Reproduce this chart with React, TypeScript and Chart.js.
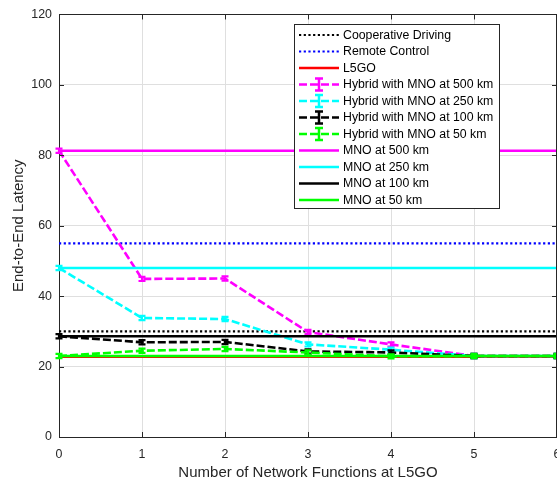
import React, { useEffect, useRef } from "react";
import { Chart, registerables } from "chart.js";

Chart.register(...registerables);

// ---------- data ----------
const xValues = [0, 1, 2, 3, 4, 5, 6];
const yTicks = [0, 20, 40, 60, 80, 100, 120];

const cooperativeDriving = [30, 30, 30, 30, 30, 30, 30];
const remoteControl = [55, 55, 55, 55, 55, 55, 55];
const l5go = [22.8, 22.8, 22.8, 22.8, 22.8, 22.8, 22.8];

const hybrid500 = [81.3, 44.9, 45, 29.8, 26.3, 23, 23];
const hybrid250 = [48, 33.8, 33.5, 26.3, 24.8, 23, 23];
const hybrid100 = [28.6, 26.9, 27, 24.3, 24, 23, 23];
const hybrid50 = [23, 24.5, 25, 24, 22.9, 23, 23];

const hybrid500Err = [0.6, 0.6, 0.6, 0.6, 0.6, 0.6, 0.6];
const hybrid250Err = [0.6, 0.6, 0.6, 0.6, 0.6, 0.6, 0.6];
const hybrid100Err = [0.6, 0.6, 0.6, 0.6, 0.6, 0.6, 0.6];
const hybrid50Err = [0.6, 0.6, 0.6, 0.6, 0.6, 0.6, 0.6];

const mno500 = [81.3, 81.3, 81.3, 81.3, 81.3, 81.3, 81.3];
const mno250 = [48, 48, 48, 48, 48, 48, 48];
const mno100 = [28.6, 28.6, 28.6, 28.6, 28.6, 28.6, 28.6];
const mno50 = [23, 23, 23, 23, 23, 23, 23];

const seriesNames = [
  "Cooperative Driving",
  "Remote Control",
  "L5GO",
  "Hybrid with MNO at 500 km",
  "Hybrid with MNO at 250 km",
  "Hybrid with MNO at 100 km",
  "Hybrid with MNO at 50 km",
  "MNO at 500 km",
  "MNO at 250 km",
  "MNO at 100 km",
  "MNO at 50 km",
];

const FONT = '"Liberation Sans", Arial, Helvetica, sans-serif';
const AXIS_COLOR = "#262626";
const GRID_COLOR = "#dfdfdf";

const toPoints = (ys: number[]) => ys.map((y, i) => ({ x: xValues[i], y }));

const DOTTED = [2.2, 2.5];
const DASHED = [8, 3];

const matlabPlugin = {
  id: "matlabLook",
  afterDatasetDraw(chart: any, args: any) {
    const ds: any = chart.data.datasets[args.index];
    if (!ds.errors) return;
    const { ctx, chartArea } = chart;
    const xs = chart.scales.x;
    const ys = chart.scales.y;
    ctx.save();
    ctx.beginPath();
    ctx.rect(chartArea.left - 5, chartArea.top - 5, chartArea.right - chartArea.left + 10, chartArea.bottom - chartArea.top + 10);
    ctx.clip();
    ctx.strokeStyle = ds.borderColor;
    ctx.lineWidth = 2.2;
    ctx.setLineDash([]);
    ds.data.forEach((p: any, i: number) => {
      const e = ds.errors[i];
      const px = xs.getPixelForValue(p.x);
      const y1 = ys.getPixelForValue(p.y + e);
      const y2 = ys.getPixelForValue(p.y - e);
      ctx.beginPath();
      ctx.moveTo(px, y1);
      ctx.lineTo(px, y2);
      ctx.moveTo(px - 3.5, y1);
      ctx.lineTo(px + 3.5, y1);
      ctx.moveTo(px - 3.5, y2);
      ctx.lineTo(px + 3.5, y2);
      ctx.stroke();
    });
    ctx.restore();
  },
  afterDraw(chart: any) {
    const { ctx, chartArea } = chart;
    const { left, right, top, bottom } = chartArea;
    const xs = chart.scales.x;
    const ys = chart.scales.y;
    ctx.save();
    // box
    ctx.strokeStyle = AXIS_COLOR;
    ctx.lineWidth = 1;
    ctx.setLineDash([]);
    ctx.beginPath();
    ctx.moveTo(left, Math.round(top) + 0.5);
    ctx.lineTo(right, Math.round(top) + 0.5);
    ctx.moveTo(Math.round(right) - 0.5, top);
    ctx.lineTo(Math.round(right) - 0.5, bottom);
    ctx.stroke();
    // inward ticks
    ctx.beginPath();
    xs.ticks.forEach((t: any) => {
      const px = Math.round(xs.getPixelForValue(t.value)) + 0.5;
      ctx.moveTo(px, bottom);
      ctx.lineTo(px, bottom - 5);
      ctx.moveTo(px, top);
      ctx.lineTo(px, top + 5);
    });
    ys.ticks.forEach((t: any) => {
      const py = Math.round(ys.getPixelForValue(t.value)) + 0.5;
      ctx.moveTo(left, py);
      ctx.lineTo(left + 5, py);
      ctx.moveTo(right, py);
      ctx.lineTo(right - 5, py);
    });
    ctx.stroke();

    // legend
    const lx = 294.5;
    const ly = 24.5;
    const lw = 205;
    const lh = 184;
    ctx.fillStyle = "#ffffff";
    ctx.fillRect(lx, ly, lw, lh);
    ctx.strokeStyle = AXIS_COLOR;
    ctx.lineWidth = 1;
    ctx.strokeRect(lx, ly, lw, lh);
    ctx.font = `12.3px ${FONT}`;
    ctx.textBaseline = "middle";
    ctx.textAlign = "left";
    chart.data.datasets.forEach((ds: any, i: number) => {
      const ry = 35 + 16.5 * i;
      ctx.strokeStyle = ds.borderColor;
      ctx.lineWidth = ds.borderWidth;
      ctx.setLineDash(ds.borderDash || []);
      ctx.beginPath();
      ctx.moveTo(299, ry);
      ctx.lineTo(339, ry);
      ctx.stroke();
      if (ds.errors) {
        ctx.setLineDash([]);
        ctx.lineWidth = 2.5;
        ctx.beginPath();
        ctx.moveTo(319, ry - 6);
        ctx.lineTo(319, ry + 6);
        ctx.moveTo(315, ry - 6);
        ctx.lineTo(323, ry - 6);
        ctx.moveTo(315, ry + 6);
        ctx.lineTo(323, ry + 6);
        ctx.stroke();
      }
      ctx.fillStyle = "#000000";
      ctx.fillText(ds.label, 343, ry + 0.5);
    });
    ctx.restore();
  },
};

export default function App() {
  const canvasRef = useRef<HTMLCanvasElement | null>(null);

  useEffect(() => {
    const canvas = canvasRef.current;
    if (!canvas) return;
    const series = [
      { data: cooperativeDriving, color: "#000000", dash: DOTTED, width: 2.2 },
      { data: remoteControl, color: "#0000ff", dash: DOTTED, width: 2.2 },
      { data: l5go, color: "#ff0000", dash: [], width: 2.5 },
      { data: hybrid500, color: "#ff00ff", dash: DASHED, width: 2.6, err: hybrid500Err },
      { data: hybrid250, color: "#00ffff", dash: DASHED, width: 2.6, err: hybrid250Err },
      { data: hybrid100, color: "#000000", dash: DASHED, width: 2.6, err: hybrid100Err },
      { data: hybrid50, color: "#00ff00", dash: DASHED, width: 2.6, err: hybrid50Err },
      { data: mno500, color: "#ff00ff", dash: [], width: 2.6 },
      { data: mno250, color: "#00ffff", dash: [], width: 2.6 },
      { data: mno100, color: "#000000", dash: [], width: 2.6 },
      { data: mno50, color: "#00ff00", dash: [], width: 2.6 },
    ];
    const datasets: any[] = series.map((s, i) => ({
      label: seriesNames[i],
      data: toPoints(s.data),
      borderColor: s.color,
      backgroundColor: s.color,
      borderWidth: s.width,
      borderDash: s.dash,
      pointRadius: 0,
      fill: false,
      tension: 0,
      order: series.length - i,
      errors: (s as any).err,
    }));

    const chart = new Chart(canvas, {
      type: "line",
      data: { datasets },
      plugins: [matlabPlugin as any],
      options: {
        responsive: false,
        animation: false,
        layout: { padding: { top: 12, right: 33, bottom: 0, left: 0 } },
        plugins: {
          legend: { display: false },
          tooltip: { enabled: false },
        },
        scales: {
          x: {
            type: "linear",
            min: 0,
            max: 6,
            ticks: {
              stepSize: 1,
              padding: 10,
              color: AXIS_COLOR,
              font: { family: FONT, size: 12.4 },
            },
            grid: { color: GRID_COLOR, drawTicks: false },
            border: { color: AXIS_COLOR, width: 1 },
            title: {
              display: true,
              text: "Number of Network Functions at L5GO",
              color: AXIS_COLOR,
              font: { family: FONT, size: 15 },
              padding: { top: 0, bottom: -2 },
            },
            afterFit: (s: any) => {
              s.height = 43;
            },
          },
          y: {
            type: "linear",
            min: 0,
            max: 120,
            afterBuildTicks: (s: any) => {
              s.ticks = yTicks.map((v) => ({ value: v }));
            },
            ticks: {
              padding: 7,
              color: AXIS_COLOR,
              font: { family: FONT, size: 12.4 },
            },
            grid: { color: GRID_COLOR, drawTicks: false },
            border: { color: AXIS_COLOR, width: 1 },
            title: {
              display: true,
              text: "End-to-End Latency",
              color: AXIS_COLOR,
              font: { family: FONT, size: 15 },
              padding: { top: 10, bottom: 0 },
            },
            afterFit: (s: any) => {
              s.width = 59;
            },
          },
        },
      } as any,
    });
    return () => chart.destroy();
  }, []);

  return (
    <div
      style={{
        position: "fixed",
        left: 0,
        top: 0,
        width: 557,
        height: 480,
        overflow: "hidden",
        background: "#ffffff",
      }}
    >
      <canvas ref={canvasRef} width={590} height={480} style={{ display: "block", width: 590, height: 480 }} />
    </div>
  );
}
